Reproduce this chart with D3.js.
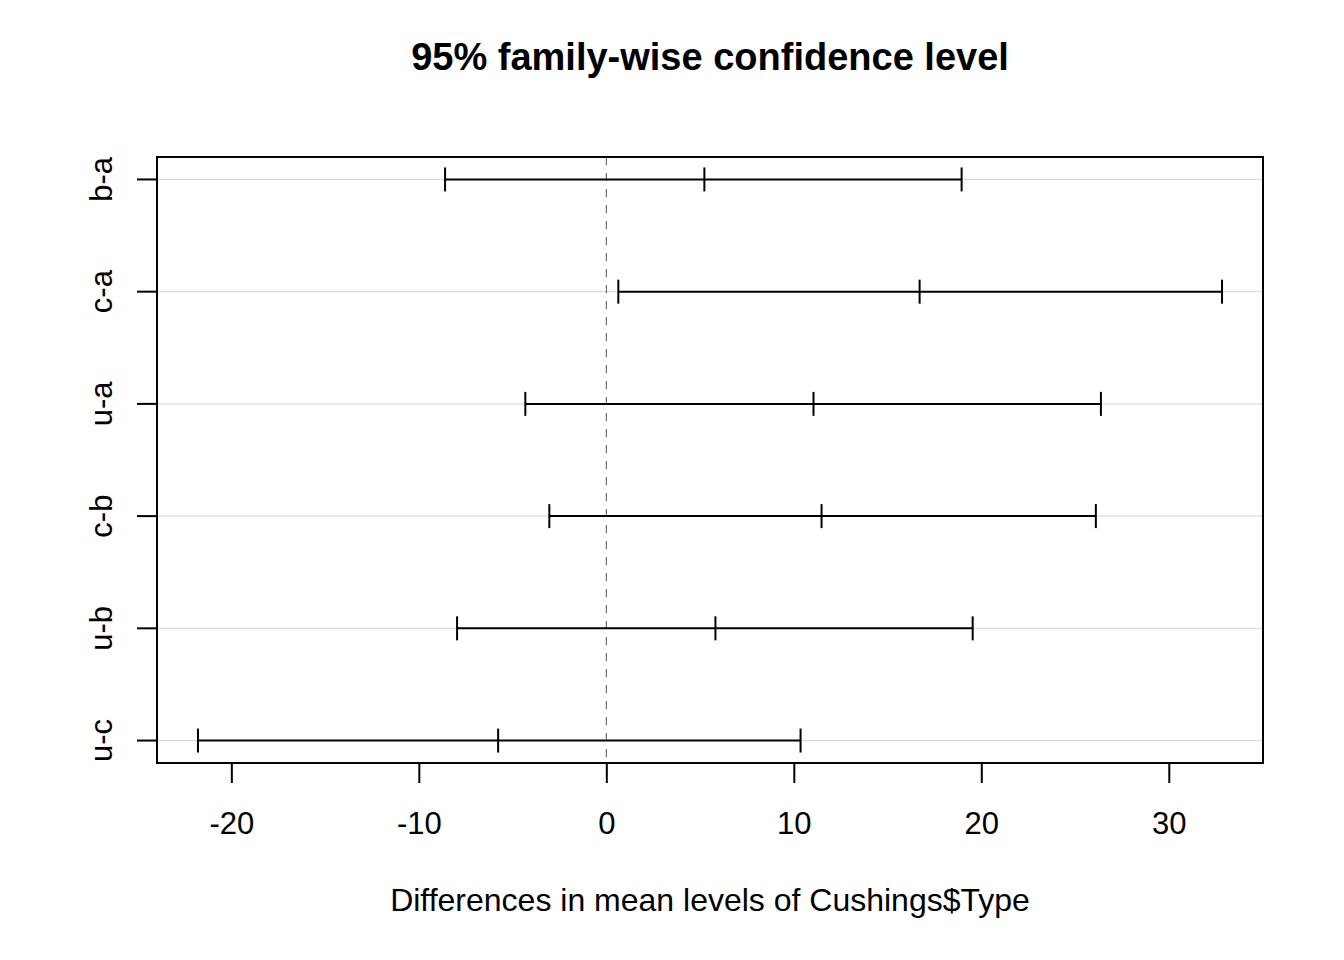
<!DOCTYPE html>
<html>
<head>
<meta charset="utf-8">
<script src="https://cdn.jsdelivr.net/npm/d3@7"></script>
<style>
  body { margin: 0; background: #fff; }
  text { font-family: "Liberation Sans", Arial, sans-serif; fill: #000; }
</style>
</head>
<body>
<svg width="1344" height="960"></svg>
<script>
// comparisons, top to bottom
var comparisons = ["b-a", "c-a", "u-a", "c-b", "u-b", "u-c"];
var diffs = [5.23, 16.71, 11.05, 11.48, 5.82, -5.77];
var lower = [-8.60, 0.64, -4.32, -3.04, -7.96, -21.78];
var upper = [18.95, 32.84, 26.38, 26.11, 19.54, 10.36];
var xTicks = [-20, -10, 0, 10, 20, 30];

var svg = d3.select("svg");
var margin = {left: 157, right: 81, top: 157, bottom: 197};
var width = +svg.attr("width");
var height = +svg.attr("height");

// R style 4% padding on both axes
var xmin = d3.min(lower), xmax = d3.max(upper);
var xpad = (xmax - xmin) * 0.04;
var x = d3.scaleLinear()
  .domain([xmin - xpad, xmax + xpad])
  .range([margin.left, width - margin.right]);

var n = comparisons.length;
var ypad = (n - 1) * 0.04;
// position n is at the top, 1 at the bottom
var y = d3.scaleLinear()
  .domain([1 - ypad, n + ypad])
  .range([height - margin.bottom, margin.top]);
function rowY(i) { return y(n - i); }

// grid lines
svg.append("g").selectAll("line")
  .data(comparisons).enter().append("line")
  .attr("x1", x.range()[0]).attr("x2", x.range()[1])
  .attr("y1", function(d, i) { return rowY(i); })
  .attr("y2", function(d, i) { return rowY(i); })
  .attr("stroke", "#d3d3d3").attr("stroke-width", 1);

// zero line
svg.append("line")
  .attr("x1", x(0)).attr("x2", x(0))
  .attr("y1", y.range()[1]).attr("y2", y.range()[0])
  .attr("stroke", "#555").attr("stroke-width", 1)
  .attr("stroke-dasharray", "8,8");

// intervals
var bars = svg.append("g").selectAll("g")
  .data(comparisons).enter().append("g");
bars.append("line")
  .attr("x1", function(d, i) { return x(lower[i]); })
  .attr("x2", function(d, i) { return x(upper[i]); })
  .attr("y1", function(d, i) { return rowY(i); })
  .attr("y2", function(d, i) { return rowY(i); })
  .attr("stroke", "#000").attr("stroke-width", 2);
[lower, diffs, upper].forEach(function(arr) {
  bars.append("line")
    .attr("x1", function(d, i) { return x(arr[i]); })
    .attr("x2", function(d, i) { return x(arr[i]); })
    .attr("y1", function(d, i) { return rowY(i) - 12; })
    .attr("y2", function(d, i) { return rowY(i) + 12; })
    .attr("stroke", "#000").attr("stroke-width", 2);
});

// box
svg.append("rect")
  .attr("x", x.range()[0]).attr("y", y.range()[1])
  .attr("width", x.range()[1] - x.range()[0])
  .attr("height", y.range()[0] - y.range()[1])
  .attr("fill", "none").attr("stroke", "#000").attr("stroke-width", 2);

// x axis
var xAxis = d3.axisBottom(x).tickValues(xTicks).tickSize(20).tickPadding(29)
  .tickFormat(d3.format("d"));
var gx = svg.append("g")
  .attr("transform", "translate(0," + y.range()[0] + ")")
  .call(xAxis);
gx.attr("font-size", null).attr("font-family", null);
gx.select(".domain")
  .attr("d", "M" + x(xTicks[0]) + ",0H" + x(xTicks[xTicks.length - 1]))
  .attr("stroke-width", 2);
gx.selectAll(".tick line").attr("stroke-width", 2);
gx.selectAll("text")
  .style("font-size", "31px").attr("fill", "#000")
  .text(function(d) { return d < 0 ? "-" + Math.abs(d) : d; });

// y axis
var gy = svg.append("g")
  .attr("transform", "translate(" + x.range()[0] + ",0)");
gy.append("line")
  .attr("x1", 0).attr("x2", 0)
  .attr("y1", rowY(0)).attr("y2", rowY(n - 1))
  .attr("stroke", "#000").attr("stroke-width", 2);
gy.selectAll(".yt").data(comparisons).enter().append("line")
  .attr("x1", -20).attr("x2", 0)
  .attr("y1", function(d, i) { return rowY(i); })
  .attr("y2", function(d, i) { return rowY(i); })
  .attr("stroke", "#000").attr("stroke-width", 2);
gy.selectAll("text").data(comparisons).enter().append("text")
  .attr("transform", function(d, i) { return "translate(" + (-45) + "," + rowY(i) + ") rotate(-90)"; })
  .attr("text-anchor", "middle")
  .style("font-size", "31px")
  .text(function(d) { return d; });

// title and axis label
svg.append("text")
  .attr("x", (x.range()[0] + x.range()[1]) / 2).attr("y", 70)
  .attr("text-anchor", "middle")
  .style("font-size", "38px").style("font-weight", "bold")
  .text("95% family-wise confidence level");
svg.append("text")
  .attr("x", (x.range()[0] + x.range()[1]) / 2).attr("y", 911)
  .attr("text-anchor", "middle")
  .style("font-size", "32px")
  .text("Differences in mean levels of Cushings$Type");
</script>
</body>
</html>
